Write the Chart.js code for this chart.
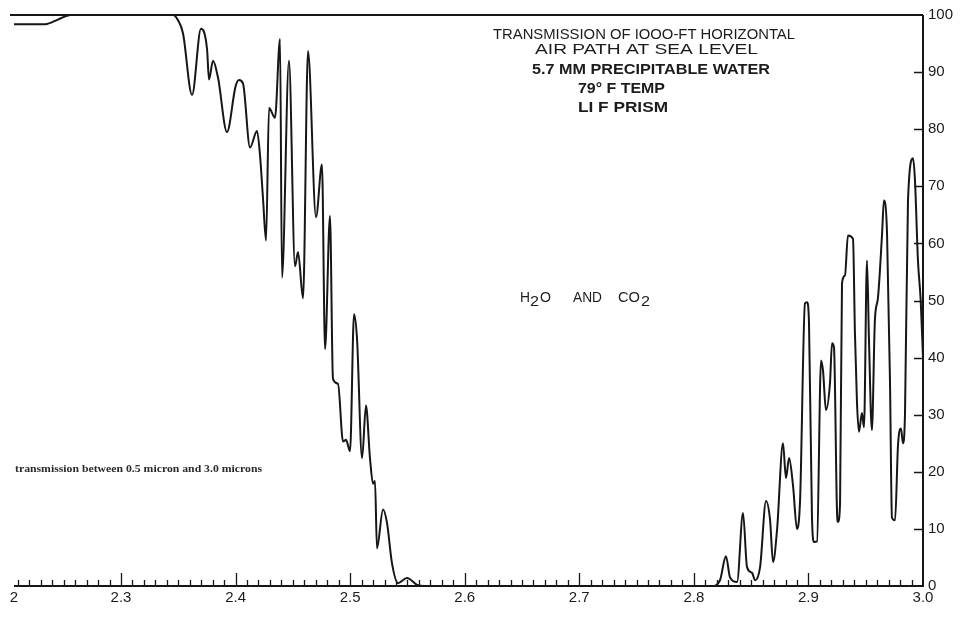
<!DOCTYPE html>
<html>
<head>
<meta charset="utf-8">
<script src="https://cdn.jsdelivr.net/npm/chart.js@4.4.1/dist/chart.umd.min.js"></script>
<style>
  html, body { margin: 0; padding: 0; background: #ffffff; }
  canvas { display: block; }
</style>
</head>
<body>
<canvas id="spectrum" width="965" height="618"></canvas>
<script>
// Wavelength in microns and percent transmission of the air path
const wavelength = [
  2.2066, 2.2340, 2.2450, 2.2560, 2.3454, 2.3500, 2.3541, 2.3620, 2.3698, 2.3751,
  2.3768, 2.3803, 2.3847, 2.3925, 2.4000, 2.4030, 2.4065, 2.4126, 2.4187, 2.4213,
  2.4239, 2.4266, 2.4292, 2.4344, 2.4388, 2.4405, 2.4466, 2.4519, 2.4545, 2.4589,
  2.4632, 2.4702, 2.4754, 2.4781, 2.4824, 2.4850, 2.4894, 2.4938, 2.4964, 2.4999,
  2.5034, 2.5060, 2.5104, 2.5138, 2.5173, 2.5200, 2.5217, 2.5234, 2.5287, 2.5322,
  2.5365, 2.5418, 2.5496, 2.5584, 2.5650, 2.8158, 2.8228, 2.8280, 2.8316, 2.8377,
  2.8429, 2.8464, 2.8508, 2.8534, 2.8578, 2.8630, 2.8665, 2.8691, 2.8726, 2.8778,
  2.8804, 2.8831, 2.8866, 2.8900, 2.8927, 2.8970, 2.8988, 2.9005, 2.9031, 2.9049,
  2.9075, 2.9110, 2.9127, 2.9153, 2.9188, 2.9206, 2.9223, 2.9249, 2.9258, 2.9276,
  2.9293, 2.9319, 2.9345, 2.9389, 2.9406, 2.9424, 2.9441, 2.9467, 2.9485, 2.9511,
  2.9528, 2.9554, 2.9580, 2.9607, 2.9642, 2.9659, 2.9686, 2.9712, 2.9729, 2.9756,
  2.9782, 2.9808, 2.9825, 2.9843, 2.9869, 2.9913, 2.9930, 2.9956, 2.9980, 3.0000
];
const transmission = [
  98.4, 98.4, 99.2, 100, 100, 99.0, 96.8, 86, 97.6, 94,
  88.7, 92, 89, 79.5, 87.5, 88.6, 88, 76.8, 79.7, 75.5,
  68, 60.5, 83.7, 82, 95.8, 54, 92, 56, 58.5, 50.4,
  93.7, 64.6, 73.8, 41.5, 64.8, 36.3, 35.4, 25.3, 25.6, 23.6,
  47.6, 43.3, 22.4, 31.6, 22.4, 17.9, 18.4, 6.6, 13.4, 11,
  4, 0.5, 1.4, 0.2, 0, 0, 1, 5.2, 1.5, 0.7,
  12.8, 3.3, 2.3, 1, 3.3, 14.9, 11.6, 4.2, 9.8, 25,
  18.9, 22.4, 17.5, 10, 15, 49.5, 49.7, 46, 12, 7.7,
  7.8, 39.5, 37.8, 30.8, 35.5, 42.5, 41.8, 13.3, 11.2, 14.5,
  53, 54.4, 61.4, 60.8, 44.2, 32, 27, 30.3, 27.8, 57,
  43.5, 27.3, 46.5, 50.5, 61.4, 67.5, 61.8, 35.5, 12, 11.5,
  24.7, 27.6, 25, 30.3, 67.5, 74.9, 71, 57, 50, 40
];

// Axis ticks
const xTickValues = [2.2066, 2.3, 2.4, 2.5, 2.6, 2.7, 2.8, 2.9, 3.0];
const xTickLabels = ['2', '2.3', '2.4', '2.5', '2.6', '2.7', '2.8', '2.9', '3.0'];
const yTickValues = [0, 10, 20, 30, 40, 50, 60, 70, 80, 90, 100];
const yTickLabels = ['0', '10', '20', '30', '40', '50', '60', '70', '80', '90', '100'];

// Annotation texts
const titleLines = [
  'TRANSMISSION OF IOOO-FT HORIZONTAL',
  'AIR PATH AT SEA LEVEL',
  '5.7 MM PRECIPITABLE WATER',
  '79\u00B0 F TEMP',
  'LI F PRISM'
];
const noteText = 'transmission between 0.5 micron and 3.0 microns';

const INK = '#161616';

// Draws a string stretched or squeezed to a given width
function fitText(ctx, text, x, y, w, font) {
  ctx.font = font;
  const m = ctx.measureText(text).width;
  ctx.save();
  ctx.translate(x, y);
  ctx.scale(w / m, 1);
  ctx.fillText(text, 0, 0);
  ctx.restore();
}

// Frame, recorder-paper ticks and lettering
const framePlugin = {
  id: 'frame',
  afterDatasetsDraw(chart) {
    const ctx = chart.ctx;
    const xs = chart.scales.x, ys = chart.scales.y;
    const L = chart.chartArea.left, R = chart.chartArea.right;
    const T = ys.getPixelForValue(100), B = ys.getPixelForValue(0);

    ctx.save();
    ctx.strokeStyle = INK;
    ctx.lineCap = 'butt';

    // top 100% line, right axis, bottom axis
    ctx.lineWidth = 2;
    ctx.beginPath();
    ctx.moveTo(L - 4, T); ctx.lineTo(R, T);
    ctx.moveTo(R, T); ctx.lineTo(R, B + 1);
    ctx.moveTo(L, B); ctx.lineTo(R + 1, B);
    ctx.stroke();

    // right axis ticks pointing into the plot
    ctx.lineWidth = 1.6;
    ctx.beginPath();
    for (let v = 10; v <= 90; v += 10) {
      const y = Math.round(ys.getPixelForValue(v)) + 0.5;
      ctx.moveTo(R - 9, y); ctx.lineTo(R, y);
    }
    ctx.stroke();

    // bottom axis ticks every 0.01 micron, longer every 0.1
    ctx.lineWidth = 1.3;
    ctx.beginPath();
    for (let k = 221; k < 300; k++) {
      const x = Math.round(xs.getPixelForValue(k / 100)) + 0.5;
      const len = (k % 10 === 0) ? 13 : 6;
      ctx.moveTo(x, B); ctx.lineTo(x, B - len);
    }
    ctx.stroke();

    // title block
    ctx.fillStyle = '#1c1c1c';
    ctx.textBaseline = 'alphabetic';
    fitText(ctx, titleLines[0], 493, 38.5, 302, '15px "Liberation Sans", Arial, sans-serif');
    fitText(ctx, titleLines[1], 535, 53.5, 223, '15px "Liberation Sans", Arial, sans-serif');
    fitText(ctx, titleLines[2], 532, 73.5, 238, 'bold 15px "Liberation Sans", Arial, sans-serif');
    fitText(ctx, titleLines[3], 578, 93, 87, 'bold 15px "Liberation Sans", Arial, sans-serif');
    fitText(ctx, titleLines[4], 578, 112, 90, 'bold 15px "Liberation Sans", Arial, sans-serif');

    // H2O AND CO2
    const f = '15px "Liberation Sans", Arial, sans-serif';
    fitText(ctx, 'H', 520, 301.5, 10, f);
    fitText(ctx, '2', 530, 306, 9, f);
    fitText(ctx, 'O', 540, 301.5, 11, f);
    fitText(ctx, 'AND', 573, 301.5, 29, f);
    fitText(ctx, 'CO', 618, 301.5, 22, f);
    fitText(ctx, '2', 641, 306, 9, f);

    // small typed note
    ctx.fillStyle = '#2a2a2a';
    fitText(ctx, noteText, 15, 471.5, 247, 'bold 10px "Liberation Serif", "Times New Roman", serif');

    ctx.restore();
  }
};

const points = wavelength.map((w, i) => ({ x: w, y: transmission[i] }));

new Chart(document.getElementById('spectrum').getContext('2d'), {
  type: 'line',
  data: {
    datasets: [{
      data: points,
      borderColor: INK,
      borderWidth: 2,
      pointRadius: 0,
      fill: false,
      cubicInterpolationMode: 'monotone'
    }]
  },
  options: {
    responsive: false,
    animation: false,
    devicePixelRatio: 1,
    layout: { padding: { left: 14, top: 15, right: 0, bottom: 0 } },
    plugins: { legend: { display: false }, tooltip: { enabled: false } },
    scales: {
      x: {
        type: 'linear',
        position: 'bottom',
        min: xTickValues[0],
        max: 3.0,
        grid: { display: false, drawTicks: false },
        border: { display: false },
        afterBuildTicks: s => { s.ticks = xTickValues.map(v => ({ value: v })); },
        afterFit: s => { s.height = 32; },
        ticks: {
          autoSkip: false,
          maxRotation: 0,
          padding: 3,
          color: '#1c1c1c',
          font: { family: '"Liberation Sans", Arial, sans-serif', size: 15 },
          callback: (v, i) => xTickLabels[i]
        }
      },
      y: {
        position: 'right',
        min: 0,
        max: 100,
        grid: { display: false, drawTicks: false },
        border: { display: false },
        afterBuildTicks: s => { s.ticks = yTickValues.map(v => ({ value: v })); },
        afterFit: s => { s.width = 42; },
        ticks: {
          padding: 5,
          color: '#1c1c1c',
          font: { family: '"Liberation Sans", Arial, sans-serif', size: 15 },
          callback: (v, i) => yTickLabels[i]
        }
      }
    }
  },
  plugins: [framePlugin]
});
</script>
</body>
</html>
